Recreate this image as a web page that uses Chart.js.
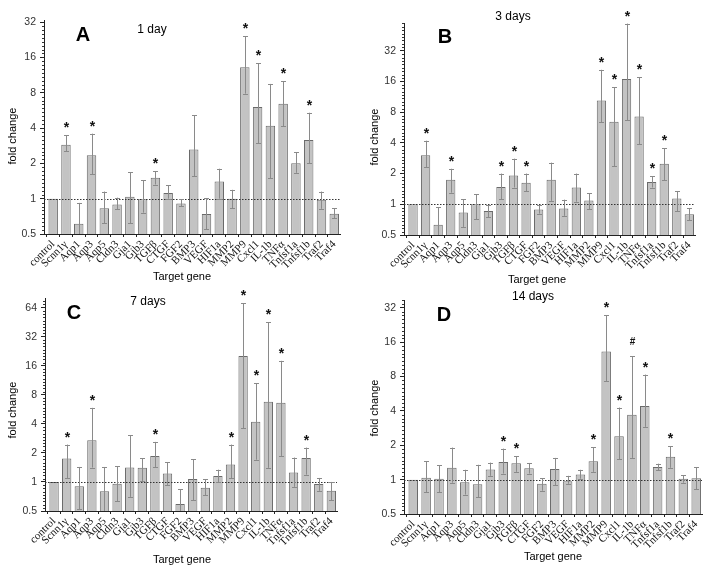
<!DOCTYPE html>
<html>
<head>
<meta charset="utf-8">
<script src="https://cdn.jsdelivr.net/npm/chart.js@4.4.0/dist/chart.umd.min.js"></script>
<style>
body { margin: 0; background: #fff; }
#wrap { position: relative; width: 714px; height: 576px; }
.pane { position: absolute; width: 357px; height: 288px; }
</style>
</head>
<body>
<div id="wrap">
  <div class="pane" style="left:0;top:0"><canvas id="chartA" width="357" height="288"></canvas></div>
  <div class="pane" style="left:357px;top:0"><canvas id="chartB" width="357" height="288"></canvas></div>
  <div class="pane" style="left:0;top:288px"><canvas id="chartC" width="357" height="288"></canvas></div>
  <div class="pane" style="left:357px;top:288px"><canvas id="chartD" width="357" height="288"></canvas></div>
</div>
<script>
var genes = ['control', 'Scnn1γ', 'Aqp1', 'Aqp3', 'Aqp5', 'Cldn3', 'Gja1', 'Gjb3', 'TGFβ', 'CTGF', 'FGF2', 'BMP3',
             'VEGF', 'HIF1a', 'MMP2', 'MMP9', 'Cxcl1', 'IL-1b', 'TNFα', 'Tnfsf1a', 'Tnfsf1b', 'Traf2', 'Traf4'];
var yTicks32 = [0.5, 1, 2, 4, 8, 16, 32];
var yTicks64 = [0.5, 1, 2, 4, 8, 16, 32, 64];

// 1 day
var day1Mean  = [1, 2.88, 0.61, 2.34, 0.83, 0.89, 1.04, 0.99, 1.51, 1.12, 0.91, 2.63, 0.74, 1.40, 1.0, 13.2, 6.04, 4.19, 6.45, 2.0, 3.16, 0.98, 0.745];
var day1Upper = [1, 3.46, 0.92, 3.58, 1.15, 1.02, 1.68, 1.43, 1.71, 1.30, 0.99, 5.13, 1.01, 1.80, 1.19, 24.1, 14.3, 9.5, 10.0, 2.48, 5.4, 1.15, 0.83];
var day1Lower = [1, 2.53, 0.40, 1.61, 0.62, 0.81, 0.62, 0.76, 1.32, 1.0, 0.86, 1.56, 0.55, 1.0, 0.83, 7.85, 2.98, 1.50, 4.13, 1.66, 2.0, 0.82, 0.68];
var day1Marks = ['', '*', '', '*', '', '', '', '', '*', '', '', '', '', '', '', '*', '*', '', '*', '', '*', '', ''];

// 3 days
var day3Mean  = [1, 3.02, 0.63, 1.74, 0.83, 1.0, 0.86, 1.48, 1.92, 1.63, 0.89, 1.74, 0.91, 1.46, 1.09, 10.4, 6.44, 16.9, 7.26, 1.65, 2.50, 1.14, 0.80];
var day3Upper = [1, 4.2, 0.94, 2.23, 1.12, 1.25, 0.985, 2.0, 2.80, 2.0, 0.985, 2.56, 1.11, 2.0, 1.29, 20.8, 14.1, 59, 17.6, 1.88, 3.53, 1.35, 0.91];
var day3Lower = [1, 2.32, 0.42, 1.30, 0.60, 0.71, 0.75, 1.12, 1.46, 1.35, 0.81, 1.08, 0.77, 1.06, 0.89, 6.4, 2.35, 6.7, 3.86, 1.46, 1.72, 0.85, 0.70];
var day3Marks = ['', '*', '', '*', '', '', '', '*', '*', '*', '', '', '', '', '', '*', '*', '*', '*', '*', '*', '', ''];

// 7 days
var day7Mean  = [1, 1.75, 0.90, 2.70, 0.80, 0.96, 1.41, 1.40, 1.86, 1.22, 0.59, 1.07, 0.87, 1.15, 1.52, 20.2, 4.2, 6.77, 6.6, 1.25, 1.77, 0.95, 0.81];
var day7Upper = [1, 2.44, 1.43, 5.86, 1.43, 1.45, 3.05, 1.75, 2.60, 1.61, 0.84, 1.72, 1.07, 1.34, 2.44, 71, 10.5, 45, 18, 1.79, 2.27, 1.10, 1.0];
var day7Lower = [1, 1.10, 0.52, 1.41, 0.45, 0.63, 0.70, 1.02, 1.43, 0.92, 0.41, 0.65, 0.73, 1.0, 1.10, 3.58, 1.70, 1.40, 1.86, 0.89, 1.19, 0.81, 0.65];
var day7Marks = ['', '*', '', '*', '', '', '', '', '*', '', '', '', '', '', '*', '*', '*', '*', '*', '', '*', '', ''];

// 14 days
var day14Mean  = [1, 1.04, 1.02, 1.27, 0.95, 0.91, 1.23, 1.43, 1.39, 1.26, 0.92, 1.24, 0.97, 1.11, 1.45, 13.3, 2.40, 3.71, 4.42, 1.29, 1.59, 1.02, 1.03];
var day14Upper = [1, 1.45, 1.34, 1.91, 1.22, 1.35, 1.41, 1.87, 1.61, 1.40, 1.03, 1.55, 1.08, 1.22, 1.93, 27.6, 4.28, 12.0, 8.33, 1.38, 1.97, 1.09, 1.29];
var day14Lower = [1, 0.78, 0.78, 0.94, 0.74, 0.70, 1.08, 1.13, 1.17, 1.13, 0.80, 0.89, 0.92, 1.02, 1.17, 7.3, 1.51, 1.55, 2.90, 1.21, 1.27, 0.94, 0.82];
var day14Marks = ['', '', '', '', '', '', '', '*', '*', '', '', '', '', '', '*', '*', '*', '#', '*', '', '*', '', ''];

Chart.defaults.font.family = "'Liberation Sans', Arial, sans-serif";
Chart.defaults.color = '#222';

// error bars, dotted line at 1, significance marks, panel texts, minor ticks
var panelPlugin = {
    id: 'panel',
    afterDatasetsDraw: function(chart) {
        var p = chart.options.plugins.panel;
        var ctx = chart.ctx, area = chart.chartArea;
        var xs = chart.scales.x, ys = chart.scales.y;
        ctx.save();
        // dotted reference line
        ctx.strokeStyle = '#333';
        ctx.lineWidth = 1;
        ctx.setLineDash([1.5, 1.5]);
        var y1 = Math.round(ys.getPixelForValue(1)) + 0.5;
        ctx.beginPath();
        ctx.moveTo(area.left, y1);
        ctx.lineTo(area.right, y1);
        ctx.stroke();
        ctx.setLineDash([]);
        // error bars
        ctx.strokeStyle = '#8a8a8a';
        for (var i = 0; i < p.mean.length; i++) {
            var x = Math.round(xs.getPixelForValue(i)) + 0.5;
            var top = p.upper[i], bot = p.lower[i];
            if (top > p.mean[i]) {
                var yt = Math.max(ys.getPixelForValue(top), area.top);
                var yb = Math.min(ys.getPixelForValue(bot), area.bottom);
                ctx.beginPath();
                ctx.moveTo(x, yt);
                ctx.lineTo(x, yb);
                ctx.moveTo(x - 2.5, Math.round(yt) + 0.5);
                ctx.lineTo(x + 2.5, Math.round(yt) + 0.5);
                if (yb < area.bottom) {
                    ctx.moveTo(x - 2.5, Math.round(yb) + 0.5);
                    ctx.lineTo(x + 2.5, Math.round(yb) + 0.5);
                }
                ctx.stroke();
            }
            if (p.marks[i]) {
                var yy = ys.getPixelForValue(Math.max(top, p.mean[i]));
                ctx.fillStyle = '#111';
                ctx.textAlign = 'center';
                if (p.marks[i] === '#') {
                    ctx.font = 'bold 10px "Liberation Sans"';
                    ctx.textBaseline = 'middle';
                    ctx.fillText('#', x, yy - 14);
                } else {
                    ctx.font = 'bold 14px "Liberation Sans"';
                    ctx.textBaseline = 'alphabetic';
                    ctx.fillText('*', x, yy - 3);
                }
            }
        }
        ctx.restore();
    },
    afterDraw: function(chart) {
        var p = chart.options.plugins.panel;
        var ctx = chart.ctx, area = chart.chartArea;
        var ys = chart.scales.y;
        ctx.save();
        // minor ticks on log axis
        ctx.strokeStyle = '#333';
        ctx.lineWidth = 1;
        ctx.beginPath();
        for (var k = -1; k < 7; k++) {
            for (var j = 1; j < 9; j++) {
                var v = Math.pow(2, k + j / 9);
                if (v > ys.max) break;
                var py = Math.round(ys.getPixelForValue(v)) + 0.5;
                ctx.moveTo(area.left - 2, py);
                ctx.lineTo(area.left, py);
            }
        }
        ctx.stroke();
        // panel letter and title
        ctx.fillStyle = '#000';
        ctx.textAlign = 'center';
        ctx.textBaseline = 'middle';
        ctx.font = 'bold 20px "Liberation Sans"';
        ctx.fillText(p.letter, p.letterX, p.letterY);
        ctx.font = '12px "Liberation Sans"';
        ctx.fillText(p.title, p.titleX, p.titleY);
        // axis titles
        ctx.font = '11px "Liberation Sans"';
        ctx.fillText('Target gene', p.xTitleX, p.xTitleY);
        ctx.translate(p.yTitleX, p.yTitleY);
        ctx.rotate(-Math.PI / 2);
        ctx.fillText('fold change', 0, 0);
        ctx.restore();
    }
};

function makeChart(id, mean, upper, lower, marks, yTicks, yMax, box, texts) {
    var pts = mean.map(function(v, i) { return { x: i, y: v }; });
    return new Chart(document.getElementById(id), {
        type: 'bar',
        data: {
            datasets: [{
                data: pts,
                backgroundColor: '#c3c3c3',
                borderColor: '#6a6a6a',
                borderWidth: 1,
                barPercentage: 0.74,
                categoryPercentage: 1
            }]
        },
        options: {
            responsive: false,
            animation: false,
            devicePixelRatio: 1,
            layout: { padding: { left: 0, top: box.top, right: 357 - box.right, bottom: 0 } },
            plugins: {
                legend: { display: false },
                tooltip: { enabled: false },
                panel: Object.assign({ mean: mean, upper: upper, lower: lower, marks: marks }, texts)
            },
            scales: {
                x: {
                    type: 'linear',
                    min: -0.72,
                    max: 22.45,
                    offset: false,
                    afterBuildTicks: function(s) {
                        s.ticks = genes.map(function(g, i) { return { value: i }; });
                    },
                    afterFit: function(s) { s.height = 288 - box.bottom; },
                    grid: { display: true, drawOnChartArea: false, tickLength: 3, color: '#222' },
                    border: { display: true, color: '#222', width: 1 },
                    ticks: {
                        autoSkip: false,
                        minRotation: 45,
                        maxRotation: 45,
                        padding: 1,
                        color: '#111',
                        font: { family: "'Liberation Serif', 'Times New Roman', serif", size: 11 },
                        callback: function(v) { return genes[v]; }
                    }
                },
                y: {
                    type: 'logarithmic',
                    min: 0.5,
                    max: yMax,
                    afterBuildTicks: function(s) {
                        s.ticks = yTicks.map(function(v) { return { value: v }; });
                    },
                    afterFit: function(s) { s.width = box.left; },
                    grid: { display: true, drawOnChartArea: false, tickLength: 4, color: '#222' },
                    border: { display: true, color: '#222', width: 1 },
                    ticks: {
                        padding: 4,
                        color: '#333',
                        font: { size: 10.5 },
                        callback: function(v) { return String(v); }
                    }
                }
            }
        },
        plugins: [panelPlugin]
    });
}

makeChart('chartA', day1Mean, day1Upper, day1Lower, day1Marks, yTicks32, 33.3,
    { left: 44, right: 340, top: 20, bottom: 234 },
    { letter: 'A', letterX: 83, letterY: 35, title: '1 day', titleX: 152, titleY: 30,
      yTitleX: 13, yTitleY: 136, xTitleX: 182, xTitleY: 277 });

makeChart('chartB', day3Mean, day3Upper, day3Lower, day3Marks, yTicks32, 59.8,
    { left: 47, right: 338, top: 23, bottom: 235 },
    { letter: 'B', letterX: 88, letterY: 37, title: '3 days', titleX: 156, titleY: 17,
      yTitleX: 18, yTitleY: 137, xTitleX: 180, xTitleY: 280 });

makeChart('chartC', day7Mean, day7Upper, day7Lower, day7Marks, yTicks64, 80,
    { left: 45, right: 337, top: 10, bottom: 223 },
    { letter: 'C', letterX: 74, letterY: 25, title: '7 days', titleX: 148, titleY: 14,
      yTitleX: 13, yTitleY: 122, xTitleX: 182, xTitleY: 272 });

makeChart('chartD', day14Mean, day14Upper, day14Lower, day14Marks, yTicks32, 37.5,
    { left: 47, right: 345, top: 12, bottom: 226 },
    { letter: 'D', letterX: 87, letterY: 27, title: '14 days', titleX: 176, titleY: 9,
      yTitleX: 18, yTitleY: 120, xTitleX: 196, xTitleY: 269 });
</script>
</body>
</html>
